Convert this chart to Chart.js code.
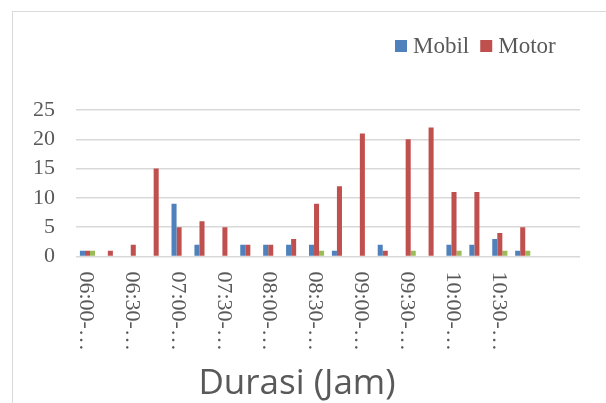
<!DOCTYPE html>
<html>
<head>
<meta charset="utf-8">
<script src="https://cdn.jsdelivr.net/npm/chart.js@4"></script>
<style>
  html, body { margin: 0; padding: 0; background: #ffffff; width: 606px; height: 403px; overflow: hidden; }
  #frame { position: absolute; left: 12px; top: 11px; width: 700px; height: 500px;
           border-top: 1px solid #d9d9d9; border-left: 1px solid #d9d9d9; }
  #wrap { position: absolute; left: 0; top: 0; width: 606px; height: 403px; }
</style>
</head>
<body>
<div id="frame"></div>
<div id="wrap"><canvas id="c" width="606" height="403"></canvas></div>
<script>
// ---- data ----
const categories = [
  '06:00-06:15','06:15-06:30','06:30-06:45','06:45-07:00',
  '07:00-07:15','07:15-07:30','07:30-07:45','07:45-08:00',
  '08:00-08:15','08:15-08:30','08:30-08:45','08:45-09:00',
  '09:00-09:15','09:15-09:30','09:30-09:45','09:45-10:00',
  '10:00-10:15','10:15-10:30','10:30-10:45','10:45-11:00',
  '', ''
];
const mobil  = [1,0,0,0,9,2,0,2,2,2,2,1,0,2,0,0,2,2,3,1,0,0];
const motor  = [1,1,2,15,5,6,5,2,2,3,9,12,21,1,20,22,11,11,4,5,0,0];
const lainnya = [1,0,0,0,0,0,0,0,0,0,1,0,0,0,1,0,1,0,1,1,0,0];
const seriesNames = ['Mobil', 'Motor', 'Lainnya'];
const legendSeries = ['Mobil', 'Motor'];
const yTicks = [0, 5, 10, 15, 20, 25];
const xTitle = 'Durasi (Jam)';

const SERIF = '"Liberation Serif", "Times New Roman", serif';
const TXT = '#595959';
const X_LABEL_FONT = '22px ' + SERIF;

function shortLabel(s) {
  return s ? s.slice(0, 6) + '\u2026' : '';
}

// x labels rotated +90deg (reading top to bottom) and the axis title
const rotatedXLabels = {
  id: 'rotatedXLabels',
  afterDraw(chart) {
    const xs = chart.scales.x;
    const ctx = chart.ctx;
    const pad = 15;
    ctx.save();
    ctx.font = X_LABEL_FONT;
    ctx.fillStyle = TXT;
    ctx.textAlign = 'left';
    ctx.textBaseline = 'alphabetic';
    xs.ticks.forEach((t, i) => {
      const lbl = i % 2 === 0 ? shortLabel(categories[i]) : '';
      if (!lbl) return;
      const x = xs.getPixelForTick(i);
      ctx.save();
      ctx.translate(x, chart.chartArea.bottom + pad);
      ctx.rotate(Math.PI / 2);
      ctx.fillText(lbl, 0, 7.3);
      ctx.restore();
    });
    // axis title
    ctx.font = '35px "Open Sans", sans-serif';
    ctx.textAlign = 'center';
    ctx.fillText(xTitle, chart.width / 2 - 6, 394);
    ctx.restore();
  }
};

// legend drawn at top right like the reference
const topLegend = {
  id: 'topLegend',
  afterDraw(chart) {
    const ctx = chart.ctx;
    ctx.save();
    ctx.font = '23px ' + SERIF;
    ctx.textBaseline = 'alphabetic';
    let x = 395;
    const boxTop = 40, box = 12, baseline = 53;
    chart.data.datasets.forEach(ds => {
      if (!legendSeries.includes(ds.label)) return;
      ctx.fillStyle = ds.backgroundColor;
      ctx.fillRect(x, boxTop, box, box);
      x += box + 6;
      ctx.fillStyle = TXT;
      ctx.fillText(ds.label, x, baseline);
      x += ctx.measureText(ds.label).width + 11;
    });
    ctx.restore();
  }
};

new Chart(document.getElementById('c'), {
  type: 'bar',
  data: {
    labels: categories,
    datasets: [
      { label: seriesNames[0], data: mobil,   backgroundColor: '#4f81bd' },
      { label: seriesNames[1], data: motor,   backgroundColor: '#c0504d' },
      { label: seriesNames[2], data: lainnya, backgroundColor: '#9bbb59' }
    ]
  },
  options: {
    responsive: false,
    animation: false,
    layout: { padding: { top: 110, left: 12, right: 26, bottom: 0 } },
    datasets: { bar: { categoryPercentage: 0.66, barPercentage: 1.0 } },
    plugins: {
      legend: { display: false },
      title: { display: false },
      tooltip: { enabled: false }
    },
    scales: {
      x: {
        grid: { display: false, drawTicks: false },
        border: { display: false },
        ticks: { display: false },
        afterFit(scale) {
          scale.paddingLeft = 0;
          scale.paddingRight = 0;
          scale.height = 146.5;
        }
      },
      y: {
        min: yTicks[0],
        max: yTicks[yTicks.length - 1],
        grid: { color: '#d9d9d9', lineWidth: 1.5, drawTicks: false },
        border: { display: false },
        afterFit(scale) {
          scale.paddingTop = 0;
          scale.paddingBottom = 0;
        },
        ticks: {
          stepSize: yTicks[1] - yTicks[0],
          autoSkip: false,
          padding: 21,
          color: TXT,
          font: { family: SERIF, size: 22 }
        }
      }
    }
  },
  plugins: [rotatedXLabels, topLegend]
});
</script>
</body>
</html>
